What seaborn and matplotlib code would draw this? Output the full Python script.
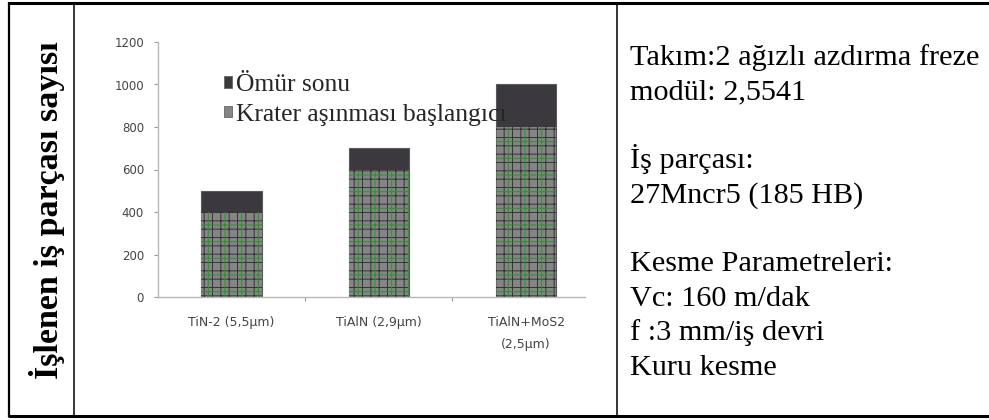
import matplotlib
matplotlib.use("Agg")
import matplotlib.pyplot as plt
import seaborn as sns
import pandas as pd
from matplotlib.patches import Patch
from matplotlib.lines import Line2D

# --- data -------------------------------------------------------------
coatings = ["TiN-2 (5,5µm)", "TiAlN (2,9µm)", "TiAlN+MoS2\n(2,5µm)"]
omur_sonu = [500, 700, 1000]          # parts machined until end of tool life
krater_baslangici = [400, 600, 800]   # parts machined until crater wear starts
y_ticks = [0, 200, 400, 600, 800, 1000, 1200]
legend_labels = ["Ömür sonu", "Krater aşınması başlangıcı"]
y_title = "İşlenen iş parçası sayısı"
info_lines = [
    "Takım:2 ağızlı azdırma freze",
    "modül: 2,5541",
    "",
    "İş parçası:",
    "27Mncr5 (185 HB)",
    "",
    "Kesme Parametreleri:",
    "Vc: 160 m/dak",
    "f :3 mm/iş devri",
    "Kuru kesme",
]

df = pd.DataFrame({"kaplama": coatings,
                   "omur": omur_sonu,
                   "krater": krater_baslangici})

# --- styling ----------------------------------------------------------
sns.set_style("white")
plt.rcParams["hatch.linewidth"] = 0.7

W, H = 989, 420
fig = plt.figure(figsize=(W / 100, H / 100), dpi=100)
fig.patch.set_facecolor("white")


def fx(x):
    return x / W


def fy(y):
    return 1 - y / H


DARK = "#3b393d"
GREY = "#858585"

ax = fig.add_axes([fx(158), fy(297), fx(585) - fx(158), fy(42) - fy(297)])
ax.set_facecolor("none")

# total bar (end of life) drawn first, crater-onset segment over it
sns.barplot(data=df, x="kaplama", y="omur", color=DARK, saturation=1,
            width=0.41, edgecolor="#5a5a5a", linewidth=0.8, ax=ax)
n = len(ax.patches)
sns.barplot(data=df, x="kaplama", y="krater", color=GREY, saturation=1,
            width=0.41, edgecolor="#5a5a5a", linewidth=0.8, ax=ax)
for p in ax.patches[n:]:
    p.set_hatch("++")
    p.set_edgecolor("#333333")
    p.set_linewidth(0)
m = len(ax.patches)
sns.barplot(data=df, x="kaplama", y="krater", color=GREY, saturation=1,
            width=0.41, ax=ax)
for p in ax.patches[m:]:
    p.set_facecolor("none")
    p.set_hatch("+")
    p.set_edgecolor("#1f9a1f")
    p.set_linewidth(0)

ax.set_xlim(-0.5, 2.40)
ax.set_ylim(0, 1200)
ax.set_yticks(y_ticks)
ax.set_yticklabels([str(v) for v in y_ticks])
ax.set_xlabel("")
ax.set_ylabel("")

for side in ("top", "right"):
    ax.spines[side].set_visible(False)
for side in ("left", "bottom"):
    ax.spines[side].set_color("#b8b8b8")
    ax.spines[side].set_linewidth(1.0)

ax.tick_params(axis="y", length=3, width=0.8, color="#9a9a9a", pad=7,
               labelsize=8.5, labelcolor="#444444", left=True)
ax.tick_params(axis="x", which="major", length=0, pad=14,
               labelsize=9, labelcolor="#444444")
ax.set_xticks([0.5, 1.5], minor=True)
ax.tick_params(axis="x", which="minor", length=3, width=0.8,
               color="#9a9a9a", bottom=True)
for lab in ax.get_xticklabels():
    lab.set_linespacing(1.9)

handles = [
    Patch(facecolor=DARK, edgecolor="#666666", linewidth=0.6),
    Patch(facecolor=GREY, edgecolor="#666666", linewidth=0.6),
]
fig.legend(handles, legend_labels, loc="upper left",
           bbox_to_anchor=(fx(224), fy(74)), frameon=False,
           prop={"family": "Liberation Serif", "size": 18.4},
           handlelength=0.32, handleheight=0.32, handletextpad=0.15,
           borderpad=0, borderaxespad=0, labelspacing=0.3)

# --- table frame ------------------------------------------------------
def hline(y, x0, x1, lw):
    fig.add_artist(Line2D([fx(x0), fx(x1)], [fy(y), fy(y)], color="black",
                          linewidth=lw, transform=fig.transFigure,
                          solid_capstyle="butt"))


def vline(x, y0, y1, lw):
    fig.add_artist(Line2D([fx(x), fx(x)], [fy(y0), fy(y1)], color="black",
                          linewidth=lw, transform=fig.transFigure,
                          solid_capstyle="butt"))


hline(3.0, 7.5, W, 2.2)
hline(416.0, 7.5, W, 2.2)
vline(8.5, 2.0, 417.0, 1.6)
vline(73.5, 3, 416, 1.1)
vline(616.5, 3, 416, 1.1)

# --- side texts -------------------------------------------------------
fig.text(fx(47), fy(210), y_title, rotation=90, ha="center", va="center",
         family="Liberation Serif", weight="bold", size=24.5, color="black")

for i, line in enumerate(info_lines):
    if line:
        fig.text(fx(630), fy(65 + i * 34.4), line, ha="left", va="baseline",
                 family="Liberation Serif", size=21.8, color="black")

fig.savefig("out.png", dpi=100)
